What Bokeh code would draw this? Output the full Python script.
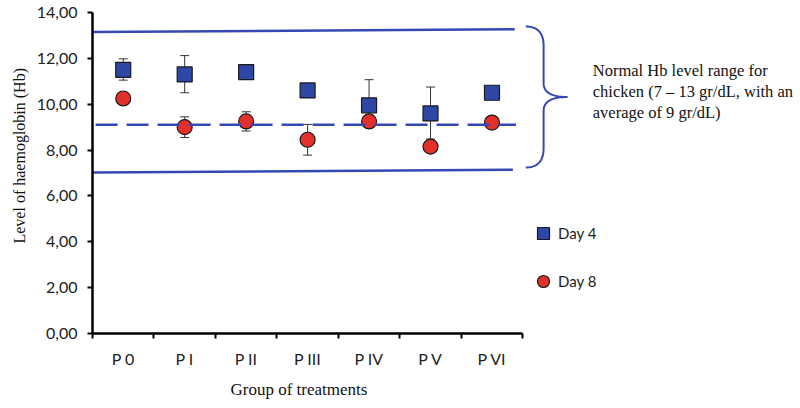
import numpy as np
from bokeh.plotting import figure
from bokeh.models import (Range1d, FixedTicker, Whisker, TeeHead, ColumnDataSource,
                          Title, Legend, LegendItem)
from bokeh.core.properties import value
from bokeh.embed import file_html
from bokeh.resources import INLINE

# ---- data ----
groups = ["P 0", "P I", "P II", "P III", "P IV", "P V", "P VI"]
day4_mean = [11.5, 11.3, 11.4, 10.6, 9.95, 9.6, 10.5]
day4_err_low = [0.45, 0.8, 0.2, 0.2, 0.9, 1.12, 0.2]
day4_err_high = [0.48, 0.82, 0.2, 0.2, 1.12, 1.15, 0.2]
day8_mean = [10.25, 9.0, 9.25, 8.45, 9.25, 8.15, 9.2]
day8_err = [0.2, 0.45, 0.42, 0.67, 0.25, 0.2, 0.2]
y_ticks = [0, 2, 4, 6, 8, 10, 12, 14]
y_tick_labels = ["0,00", "2,00", "4,00", "6,00", "8,00", "10,00", "12,00", "14,00"]
normal_upper = [13.15, 13.27]
normal_lower = [7.02, 7.14]
normal_average = 9.1
note_lines = ["Normal Hb level range for", "chicken (7 \u2013 13 gr/dL, with an", "average of 9 gr/dL)"]

BLUE_LINE = "#3648B4"
SQ_FILL = "#2E47A6"
CIRC_FILL = "#E3302A"
SERIF = "Liberation Serif"
SANS = "Lato"

n = len(groups)
xs = np.arange(n) + 0.5

p = figure(width=800, height=408, output_backend="svg", toolbar_location=None,
           x_range=Range1d(0, 11.52), y_range=Range1d(0, 14),
           min_border_left=92, min_border_right=0, min_border_top=12, min_border_bottom=75)
p.outline_line_color = None
p.xgrid.grid_line_color = None
p.ygrid.grid_line_color = None
p.background_fill_color = "white"
p.border_fill_color = "white"

# y axis
ya = p.yaxis[0]
ya.ticker = FixedTicker(ticks=y_ticks)
ya.major_label_overrides = {t: l for t, l in zip(y_ticks, y_tick_labels)}
ya.bounds = (0, 14)
ya.axis_line_width = 2.5
ya.axis_line_color = "black"
ya.major_tick_line_width = 2
ya.major_tick_line_color = "black"
ya.major_tick_in = 0
ya.major_tick_out = 5
ya.minor_tick_line_color = None
ya.major_label_standoff = 10
ya.major_label_text_font = SANS
ya.major_label_text_font_size = "16px"
ya.major_label_text_color = "#222222"

# x axis
xa = p.xaxis[0]
xa.ticker = FixedTicker(ticks=list(xs), minor_ticks=list(range(n + 1)))
xa.major_label_overrides = {float(x): g for x, g in zip(xs, groups)}
xa.bounds = (0, n)
xa.axis_line_width = 2.5
xa.axis_line_color = "black"
xa.major_tick_in = 0
xa.major_tick_out = 0
xa.major_tick_line_color = None
xa.minor_tick_in = 0
xa.minor_tick_out = 5
xa.minor_tick_line_width = 2
xa.minor_tick_line_color = "black"
xa.major_label_standoff = 10
xa.major_label_text_font = SANS
xa.major_label_text_font_size = "16px"
xa.major_label_text_color = "#222222"

# error bars
src4 = ColumnDataSource(dict(x=xs, y=day4_mean,
                             lo=np.array(day4_mean) - np.array(day4_err_low),
                             hi=np.array(day4_mean) + np.array(day4_err_high)))
src8 = ColumnDataSource(dict(x=xs, y=day8_mean,
                             lo=np.array(day8_mean) - np.array(day8_err),
                             hi=np.array(day8_mean) + np.array(day8_err)))
for s in (src4, src8):
    w = Whisker(base="x", lower="lo", upper="hi", source=s, dimension="height",
                line_color="#333333", line_width=1, level="underlay",
                upper_head=TeeHead(size=9, line_color="#333333", line_width=1),
                lower_head=TeeHead(size=9, line_color="#333333", line_width=1))
    p.add_layout(w)

r4 = p.scatter("x", "y", source=src4, marker="square", size=15,
               fill_color=SQ_FILL, line_color="#1a1a1a", line_width=1.2)
r8 = p.scatter("x", "y", source=src8, marker="circle", size=15,
               fill_color=CIRC_FILL, line_color="#1a1a1a", line_width=1.2)

# normal range lines
p.line([0, 6.87], normal_upper, line_color=BLUE_LINE, line_width=2.5)
p.line([0, 6.84], normal_lower, line_color=BLUE_LINE, line_width=2.5)
p.line([0.05, 6.89], [normal_average, normal_average], line_color=BLUE_LINE,
       line_width=2.5, line_dash="22 9")

# brace
def qbez(p0, c, p1, m=20):
    t = np.linspace(0, 1, m)
    bx = (1 - t) ** 2 * p0[0] + 2 * (1 - t) * t * c[0] + t ** 2 * p1[0]
    by = (1 - t) ** 2 * p0[1] + 2 * (1 - t) * t * c[1] + t ** 2 * p1[1]
    return list(bx), list(by)

bx0, bx1, btip = 7.05, 7.34, 7.73
btop, bbot = 13.39, 7.24
bmid = (btop + bbot) / 2
bxs, bys = [], []
for seg in [qbez((bx0, btop), (bx1, btop), (bx1, btop - 0.85)),
            ([bx1, bx1], [btop - 0.85, bmid + 0.6]),
            qbez((bx1, bmid + 0.6), (bx1, bmid), (btip, bmid)),
            qbez((btip, bmid), (bx1, bmid), (bx1, bmid - 0.6)),
            ([bx1, bx1], [bmid - 0.6, bbot + 0.85]),
            qbez((bx1, bbot + 0.85), (bx1, bbot), (bx0, bbot))]:
    bxs += list(seg[0])
    bys += list(seg[1])
p.line(bxs, bys, line_color=BLUE_LINE, line_width=2)

# note text
note_src = ColumnDataSource(dict(x=[8.14] * 3, y=[11.47, 10.55, 9.62], t=note_lines))
p.text("x", "y", text="t", source=note_src, text_font=value(SERIF), text_font_size="16.5px",
       text_baseline="middle", text_align="left", text_color="#111111")

# axis titles
p.add_layout(Title(text="Group of treatments", align="left", offset=138, text_font=SERIF,
                   text_font_size="17px", text_font_style="normal", text_color="#111111",
                   standoff=14),
             "below")
p.add_layout(Title(text="Level of haemoglobin (Hb)", align="left", offset=90, text_font=SERIF,
                   text_font_size="16px", text_font_style="normal", text_color="#111111",
                   standoff=12),
             "left")

# legend
legend = Legend(items=[LegendItem(label="Day 4", renderers=[r4]),
                       LegendItem(label="Day 8", renderers=[r8])],
                location=(436, 37), glyph_width=30, glyph_height=30, spacing=18,
                label_standoff=-8, padding=0, margin=0, border_line_color=None,
                background_fill_alpha=0, label_text_font=SANS, label_text_font_size="15px",
                label_text_color="#222222")
p.add_layout(legend)

open("out.html", "w").write(file_html(p, INLINE))
